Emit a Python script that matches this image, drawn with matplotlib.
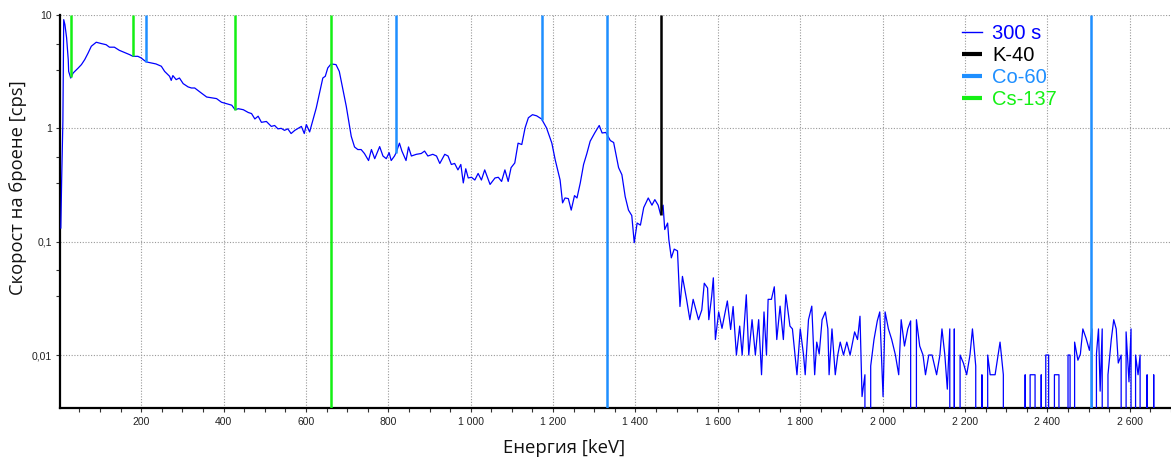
import numpy as np
import matplotlib
matplotlib.use("Agg")
import matplotlib.pyplot as plt
from matplotlib.ticker import FixedLocator, FuncFormatter, MultipleLocator

# spectrum (keV, cps); 0 = no counts in the channel
energy = [5, 7, 10, 12, 15, 19, 23, 24, 29, 35, 47, 55, 63, 71, 79, 91, 103, 115,
          123, 135, 147, 159, 172, 180, 192, 200, 212, 224, 236, 249, 257, 269,
          273, 277, 285, 293, 302, 314, 322, 330, 338, 346, 359, 371, 383, 395,
          407, 420, 428, 436, 448, 460, 468, 476, 484, 492, 504, 516, 524, 532,
          540, 548, 556, 564, 573, 581, 589, 596, 601, 609, 617, 625, 633, 641,
          647, 653, 661, 673, 681, 690, 698, 710, 718, 726, 734, 742, 752, 759,
          767, 779, 787, 795, 802, 807, 815, 819, 827, 833, 843, 849, 856, 868,
          880, 888, 896, 908, 917, 925, 937, 945, 953, 961, 969, 976, 982, 988,
          994, 1002, 1010, 1018, 1026, 1034, 1047, 1059, 1067, 1075, 1083, 1091,
          1098, 1107, 1115, 1124, 1132, 1140, 1150, 1160, 1172, 1184, 1197, 1205,
          1217, 1223, 1229, 1237, 1244, 1252, 1258, 1266, 1274, 1282, 1290, 1301,
          1312, 1319, 1328, 1339, 1347, 1359, 1367, 1375, 1383, 1391, 1397, 1404,
          1412, 1420, 1431, 1440, 1447, 1455, 1461, 1467, 1471, 1478, 1481, 1487,
          1494, 1502, 1508, 1514, 1524, 1532, 1540, 1553, 1561, 1567, 1575, 1578,
          1585, 1589, 1594, 1602, 1610, 1623, 1631, 1637, 1645, 1653, 1659, 1669,
          1675, 1683, 1691, 1699, 1706, 1712, 1718, 1722, 1730, 1737, 1743, 1751,
          1759, 1765, 1775, 1781, 1792, 1800, 1808, 1812, 1820, 1828, 1835, 1840,
          1846, 1853, 1861, 1867, 1870, 1877, 1885, 1891, 1897, 1905, 1913, 1921,
          1932, 1939, 1945, 1950, 1957, 1963, 1971, 1979, 1987, 1993, 2001, 2006,
          2014, 2022, 2031, 2039, 2045, 2053, 2061, 2068, 2074, 2082, 2090, 2098,
          2104, 2112, 2120, 2131, 2139, 2144, 2151, 2157, 2163, 2169, 2174, 2180,
          2188, 2196, 2204, 2212, 2218, 2226, 2233, 2241, 2249, 2255, 2261, 2273,
          2285, 2293, 2301, 2340, 2346, 2350, 2358, 2370, 2377, 2385, 2388, 2396,
          2403, 2409, 2417, 2428, 2434, 2444, 2450, 2455, 2460, 2466, 2474, 2480,
          2486, 2494, 2502, 2508, 2512, 2519, 2524, 2528, 2533, 2539, 2547, 2555,
          2561, 2567, 2572, 2579, 2583, 2591, 2598, 2603, 2607, 2614, 2620, 2625,
          2632, 2642, 2648, 2658, 2663]
cps = [0.132, 0.35, 1.15, 9.1, 8.2, 6.3, 4.04, 3.18, 2.78, 3.08, 3.4, 3.65, 4.04,
       4.6, 5.3, 5.75, 5.6, 5.47, 5.2, 5.2, 4.88, 4.68, 4.47, 4.32, 4.32, 4.18,
       3.86, 3.78, 3.7, 3.53, 3.18, 2.88, 2.65, 2.92, 2.69, 2.78, 2.48, 2.32, 2.27,
       2.27, 2.16, 2.05, 1.89, 1.86, 1.83, 1.7, 1.65, 1.6, 1.46, 1.49, 1.46, 1.38,
       1.35, 1.21, 1.28, 1.13, 1.15, 1.04, 1.06, 0.99, 1.0, 0.96, 0.99, 0.9, 0.96,
       1.0, 1.04, 0.9, 1.08, 0.93, 1.19, 1.51, 2.05, 2.78, 2.88, 3.41, 3.7, 3.65,
       3.18, 2.19, 1.56, 0.85, 0.685, 0.65, 0.65, 0.6, 0.52, 0.65, 0.54, 0.69,
       0.57, 0.54, 0.61, 0.52, 0.57, 0.61, 0.74, 0.63, 0.52, 0.685, 0.57, 0.59,
       0.6, 0.63, 0.57, 0.59, 0.57, 0.49, 0.59, 0.57, 0.48, 0.49, 0.43, 0.48, 0.33,
       0.44, 0.365, 0.37, 0.35, 0.40, 0.35, 0.43, 0.32, 0.365, 0.37, 0.34, 0.43,
       0.34, 0.45, 0.495, 0.74, 0.72, 1.01, 1.24, 1.32, 1.29, 1.21, 1.01, 0.74,
       0.53, 0.35, 0.22, 0.243, 0.24, 0.19, 0.255, 0.243, 0.33, 0.48, 0.6, 0.77,
       0.91, 1.06, 0.91, 0.92, 0.78, 0.75, 0.45, 0.39, 0.25, 0.19, 0.17, 0.098,
       0.146, 0.14, 0.20, 0.243, 0.21, 0.235, 0.21, 0.173, 0.21, 0.128, 0.146,
       0.104, 0.072, 0.086, 0.083, 0.0268, 0.0494, 0.031, 0.0205, 0.031, 0.0205,
       0.025, 0.043, 0.039, 0.0205, 0.033, 0.048, 0.0137, 0.024, 0.0172, 0.030,
       0.0168, 0.0268, 0.01, 0.018, 0.01, 0.034, 0.01, 0.0205, 0.01, 0.0205,
       0.0067, 0.024, 0.01, 0.031, 0.031, 0.04, 0.0137, 0.027, 0.0137, 0.034,
       0.018, 0.017, 0.0067, 0.017, 0.01, 0.0067, 0.0205, 0.027, 0.0067, 0.013,
       0.0102, 0.0205, 0.024, 0.017, 0.0067, 0.017, 0.0067, 0.01, 0.013, 0.01,
       0.013, 0.01, 0.016, 0.0137, 0.022, 0.0043, 0.0067, 0, 0.008, 0.0137, 0.02,
       0.024, 0.0043, 0.024, 0.017, 0.0137, 0.01, 0.0067, 0.0205, 0.012, 0.017,
       0.02, 0, 0.0205, 0.012, 0.01, 0.0067, 0.01, 0.01, 0.0067, 0.01, 0.017, 0.01,
       0.005, 0.017, 0, 0.017, 0, 0.01, 0.0085, 0.0067, 0.01, 0.017, 0.008, 0,
       0.0067, 0, 0.01, 0.0067, 0.0067, 0.013, 0.0067, 0, 0, 0.0067, 0, 0.0067,
       0.0067, 0, 0.0067, 0, 0.01, 0.01, 0, 0.0067, 0.0067, 0, 0, 0.01, 0.01, 0,
       0.013, 0.009, 0.0102, 0.017, 0.014, 0.011, 0.017, 0, 0.0102, 0.017, 0.0048,
       0.017, 0, 0.0067, 0.0137, 0.0205, 0.017, 0.0085, 0.01, 0, 0.016, 0.0058,
       0.017, 0, 0.01, 0.0067, 0.01, 0, 0.0067, 0, 0.0067, 0]

# nuclide marker lines (keV); full = line drawn over the whole height
k40_lines = [1461]
k40_full = [False]
co60_lines = [211, 818, 1173, 1332, 2505]
co60_full = [False, False, False, True, True]
cs137_lines = [30, 181, 428, 662]
cs137_full = [False, False, False, True]

legend_labels = ["300 s", "K-40", "Co-60", "Cs-137"]
spec_color = "#0000ff"
k40_color = "#000000"
co60_color = "#1e8fff"
cs137_color = "#14f014"

xlim = (3, 2700)
ylim = (0.00343, 10)

fig = plt.figure(figsize=(11.71, 4.59), dpi=100)
ax = fig.add_axes([60 / 1171, 51.3 / 459, 1111 / 1171, 392.7 / 459])

ax.plot(energy, cps, color=spec_color, lw=0.9, label=legend_labels[0], zorder=3)


def markers(lines, full, color, label):
    bottoms = [ylim[0] if f else np.interp(e, energy, cps) for e, f in zip(lines, full)]
    return ax.vlines(lines, bottoms, ylim[1], colors=color, lw=1.8, label=label, zorder=4)


h_k = markers(k40_lines, k40_full, k40_color, legend_labels[1])
h_co = markers(co60_lines, co60_full, co60_color, legend_labels[2])
h_cs = markers(cs137_lines, cs137_full, cs137_color, legend_labels[3])

ax.set_yscale("log")
ax.set_xlim(*xlim)
ax.set_ylim(*ylim)

ax.xaxis.set_major_locator(FixedLocator(list(range(200, 2700, 200))))
ax.xaxis.set_minor_locator(MultipleLocator(50))
ax.xaxis.set_major_formatter(FuncFormatter(lambda v, p: f"{int(v):,}".replace(",", " ")))

ax.yaxis.set_major_locator(FixedLocator([0.01, 0.1, 1, 10]))
ax.yaxis.set_minor_locator(FixedLocator([0.033, 0.056, 0.33, 0.56, 3.3, 5.6]))
ax.yaxis.set_major_formatter(FuncFormatter(lambda v, p: f"{v:g}".replace(".", ",")))
ax.yaxis.set_minor_formatter(FuncFormatter(lambda v, p: ""))

for lab in ax.get_xticklabels() + ax.get_yticklabels():
    lab.set_fontfamily("Liberation Sans")
    lab.set_fontsize(7.5)
    lab.set_color("#222222")
ax.tick_params(which="both", direction="out", length=3, width=0.8, color="#333333")
ax.tick_params(axis="x", pad=4)
ax.tick_params(axis="y", pad=3)

ax.grid(True, which="major", color="#999999", linestyle=(0, (1, 1.5)), lw=0.8)
ax.set_axisbelow(True)

for s in ["top", "right"]:
    ax.spines[s].set_visible(False)
for s in ["left", "bottom"]:
    ax.spines[s].set_linewidth(1.6)
    ax.spines[s].set_color("black")

ax.set_xlabel("Енергия [keV]", family="Open Sans", fontsize=13.3, color="#111111")
ax.xaxis.set_label_coords(0.454, -0.08)
ax.set_ylabel("Скорост на броене [cps]", family="Open Sans", fontsize=13.2, color="#111111")
ax.yaxis.set_label_coords(-0.03, 0.56)

leg = ax.legend(handles=[ax.lines[0], h_k, h_co, h_cs], loc="upper left",
                bbox_to_anchor=(0.812, 0.977), frameon=False, borderpad=0,
                borderaxespad=0, labelspacing=0.15, handlelength=1.0,
                handletextpad=0.5, prop=dict(family="Liberation Sans", size=14.5))
for txt, col in zip(leg.get_texts(), [spec_color, k40_color, co60_color, cs137_color]):
    txt.set_color(col)
for h, w in zip(leg.legend_handles, [1.0, 3, 3, 3]):
    h.set_linewidth(w)

fig.savefig("out.png", dpi=100)
